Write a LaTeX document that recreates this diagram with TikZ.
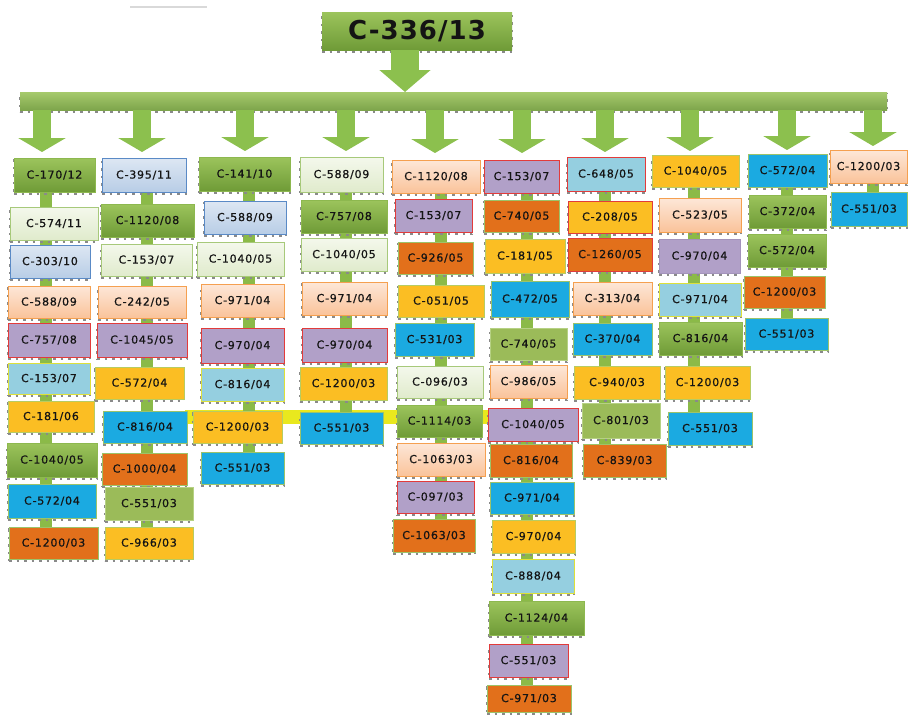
\documentclass[tikz,border=0pt]{standalone}
\usepackage{fontspec}
\usetikzlibrary{arrows.meta,backgrounds,calc}
\newfontfamily\labfont[LetterSpace=7,FakeBold=0.7]{DejaVu Sans}
\newfontfamily\titlefont[LetterSpace=4]{DejaVu Sans}
\definecolor{gdkT}{HTML}{9CC45C}
\definecolor{gdkB}{HTML}{6F9B37}
\definecolor{gdkL}{HTML}{8DB84F}
\definecolor{gltT}{HTML}{F4F8EC}
\definecolor{gltB}{HTML}{E0EBCC}
\definecolor{gltL}{HTML}{A7C97A}
\definecolor{gmdF}{HTML}{9BBB59}
\definecolor{gmdL}{HTML}{B6D184}
\definecolor{bltT}{HTML}{DDE7F3}
\definecolor{bltB}{HTML}{B8CDE6}
\definecolor{bltL}{HTML}{5A8AC6}
\definecolor{pchT}{HTML}{FDE7D8}
\definecolor{pchB}{HTML}{FAC39A}
\definecolor{pchL}{HTML}{F5A050}
\definecolor{purF}{HTML}{B1A0C8}
\definecolor{purL}{HTML}{E23B3B}
\definecolor{purG}{HTML}{A393BB}
\definecolor{cyaF}{HTML}{95CFE0}
\definecolor{cyaL}{HTML}{DDE03A}
\definecolor{ylwF}{HTML}{FBBE23}
\definecolor{ylwL}{HTML}{B7CC62}
\definecolor{bluF}{HTML}{1BAAE1}
\definecolor{bluL}{HTML}{9CC36A}
\definecolor{orgF}{HTML}{E2701B}
\definecolor{orgL}{HTML}{9CC36A}
\definecolor{arrG}{HTML}{8CC04E}
\definecolor{shaftG}{HTML}{8BBA48}
\definecolor{dashG}{HTML}{8A8A8A}
\definecolor{bandY}{HTML}{E9E81E}
\definecolor{txt}{HTML}{141414}
\tikzset{
  box/.style={rectangle, inner sep=0pt, outer sep=0pt, line width=0.9pt, text=txt,
    font=\labfont\fontsize{11}{12}\selectfont,
    preaction={draw=dashG, dash pattern=on 2.5pt off 5pt, line width=1.4pt, transform canvas={yshift=-2pt}}},
  gdk/.style={box, draw=gdkL, top color=gdkT, bottom color=gdkB},
  glt/.style={box, draw=gltL, top color=gltT, bottom color=gltB},
  gmd/.style={box, draw=gmdL, fill=gmdF},
  blt/.style={box, draw=bltL, top color=bltT, bottom color=bltB},
  pch/.style={box, draw=pchL, top color=pchT, bottom color=pchB},
  pur/.style={box, draw=purL, fill=purF},
  purg/.style={box, draw=purG, fill=purF},
  cya/.style={box, draw=cyaL, fill=cyaF},
  cyr/.style={box, draw=purL, fill=cyaF},
  ylw/.style={box, draw=ylwL, fill=ylwF},
  ylr/.style={box, draw=purL, fill=ylwF},
  blu/.style={box, draw=bluL, fill=bluF},
  org/.style={box, draw=orgL, fill=orgF},
  orr/.style={box, draw=purL, fill=orgF},
  titlebox/.style={box, draw=none, top color=gdkT, bottom color=gdkB,
    font=\titlefont\bfseries\fontsize{26}{30}\selectfont},
  barst/.style={box, draw=none, top color=gdkT!90!white, bottom color=gdkB!90!white},
  shaft/.style={draw=shaftG, line width=12pt},
  colarrow/.style={draw=arrG, line width=18pt, -{Triangle[length=14pt,width=47pt]}},
  mainarrow/.style={draw=arrG, line width=28pt, -{Triangle[length=22pt,width=50pt]}},
}
\newcommand\bx[7]{\node[#2, minimum width={(#5-#3)*1pt}, minimum height={(#6-#4)*1pt}] (#1) at ({(#3+#5)/2},{(#4+#6)/2}) {#7};}
\begin{document}
\begin{tikzpicture}[x=1pt,y=-1pt]
\useasboundingbox (0,0) rectangle (908,715);
\draw[gray!30, line width=2pt] (130,7) -- (207,7);
% root and bar
\node[titlebox, minimum width=190pt, minimum height=38pt] (root) at (417,31) {C-336/13};
\node[barst, minimum width=867pt, minimum height=18pt] (bar) at (453.5,101) {};
% column 1
\bx{a1}{gdk}{14}{158}{95}{192}{C-170/12}
\bx{a2}{glt}{10}{207}{98}{240}{C-574/11}
\bx{a3}{blt}{10}{245}{90}{278}{C-303/10}
\bx{a4}{pch}{8}{286}{90}{318}{C-588/09}
\bx{a5}{pur}{8}{323}{90}{357}{C-757/08}
\bx{a6}{cya}{8}{363}{90}{394}{C-153/07}
\bx{a7}{ylw}{8}{401}{94}{432}{C-181/06}
\bx{a8}{gdk}{7}{443}{97}{477}{C-1040/05}
\bx{a9}{blu}{8}{484}{96}{518}{C-572/04}
\bx{a10}{org}{9}{527}{98}{559}{C-1200/03}
% column 2
\bx{b1}{blt}{102}{158}{186}{192}{C-395/11}
\bx{b2}{gdk}{101}{204}{194}{237}{C-1120/08}
\bx{b3}{glt}{101}{244}{192}{276}{C-153/07}
\bx{b4}{pch}{98}{286}{186}{318}{C-242/05}
\bx{b5}{pur}{97}{323}{187}{357}{C-1045/05}
\bx{b6}{ylw}{95}{367}{184}{399}{C-572/04}
\bx{b7}{blu}{103}{411}{187}{443}{C-816/04}
\bx{b8}{org}{102}{453}{187}{485}{C-1000/04}
\bx{b9}{gmd}{105}{487}{193}{520}{C-551/03}
\bx{b10}{ylw}{105}{527}{193}{559}{C-966/03}
% column 3
\bx{c1}{gdk}{199}{157}{290}{191}{C-141/10}
\bx{c2}{blt}{204}{201}{286}{234}{C-588/09}
\bx{c3}{glt}{197}{242}{284}{276}{C-1040/05}
\bx{c4}{pch}{201}{284}{284}{317}{C-971/04}
\bx{c5}{pur}{201}{328}{284}{363}{C-970/04}
\bx{c6}{cya}{201}{368}{284}{401}{C-816/04}
\bx{c7}{ylw}{193}{411}{282}{443}{C-1200/03}
\bx{c8}{blu}{201}{452}{284}{484}{C-551/03}
% column 4
\bx{d1}{glt}{300}{157}{383}{192}{C-588/09}
\bx{d2}{gdk}{301}{200}{387}{233}{C-757/08}
\bx{d3}{glt}{301}{238}{387}{271}{C-1040/05}
\bx{d4}{pch}{302}{282}{387}{315}{C-971/04}
\bx{d5}{pur}{302}{328}{387}{362}{C-970/04}
\bx{d6}{ylw}{300}{367}{387}{400}{C-1200/03}
\bx{d7}{blu}{300}{412}{383}{444}{C-551/03}
% column 5
\bx{e1}{pch}{392}{160}{480}{193}{C-1120/08}
\bx{e2}{pur}{395}{199}{472}{232}{C-153/07}
\bx{e3}{org}{398}{242}{473}{274}{C-926/05}
\bx{e4}{ylw}{398}{285}{484}{317}{C-051/05}
\bx{e5}{blu}{395}{323}{474}{356}{C-531/03}
\bx{e6}{glt}{397}{366}{483}{398}{C-096/03}
\bx{e7}{gdk}{397}{405}{482}{437}{C-1114/03}
\bx{e8}{pch}{397}{443}{485}{476}{C-1063/03}
\bx{e9}{pur}{397}{481}{474}{513}{C-097/03}
\bx{e10}{org}{393}{519}{475}{552}{C-1063/03}
% column 6
\bx{f1}{pur}{484}{160}{559}{193}{C-153/07}
\bx{f2}{org}{484}{200}{559}{232}{C-740/05}
\bx{f3}{ylw}{485}{239}{565}{273}{C-181/05}
\bx{f4}{blu}{491}{281}{569}{317}{C-472/05}
\bx{f5}{gmd}{490}{328}{567}{360}{C-740/05}
\bx{f6}{pch}{490}{365}{567}{398}{C-986/05}
\bx{f7}{pur}{488}{408}{578}{441}{C-1040/05}
\bx{f8}{org}{490}{444}{572}{477}{C-816/04}
\bx{f9}{blu}{490}{482}{574}{514}{C-971/04}
\bx{f10}{ylw}{492}{520}{575}{553}{C-970/04}
\bx{f11}{cya}{492}{559}{574}{593}{C-888/04}
\bx{f12}{gdk}{489}{601}{584}{635}{C-1124/04}
\bx{f13}{pur}{489}{644}{568}{677}{C-551/03}
\bx{f14}{org}{487}{685}{571}{712}{C-971/03}
% column 7
\bx{g1}{cyr}{567}{157}{645}{191}{C-648/05}
\bx{g2}{ylr}{568}{201}{652}{233}{C-208/05}
\bx{g3}{orr}{568}{238}{652}{271}{C-1260/05}
\bx{g4}{pch}{573}{282}{652}{315}{C-313/04}
\bx{g5}{blu}{573}{323}{652}{355}{C-370/04}
\bx{g6}{ylw}{574}{366}{660}{399}{C-940/03}
\bx{g7}{gmd}{582}{403}{660}{438}{C-801/03}
\bx{g8}{org}{583}{444}{666}{477}{C-839/03}
% column 8
\bx{h1}{ylw}{652}{155}{739}{187}{C-1040/05}
\bx{h2}{pch}{659}{198}{741}{232}{C-523/05}
\bx{h3}{purg}{659}{239}{740}{273}{C-970/04}
\bx{h4}{cya}{659}{283}{741}{316}{C-971/04}
\bx{h5}{gdk}{659}{322}{742}{355}{C-816/04}
\bx{h6}{ylw}{665}{366}{750}{399}{C-1200/03}
\bx{h7}{blu}{668}{412}{752}{445}{C-551/03}
% column 9
\bx{i1}{blu}{748}{154}{827}{187}{C-572/04}
\bx{i2}{gdk}{749}{195}{826}{228}{C-372/04}
\bx{i3}{gdk}{748}{234}{826}{267}{C-572/04}
\bx{i4}{org}{744}{276}{825}{308}{C-1200/03}
\bx{i5}{blu}{745}{318}{828}{350}{C-551/03}
% column 10
\bx{j1}{pch}{830}{150}{907}{183}{C-1200/03}
\bx{j2}{blu}{831}{192}{907}{226}{C-551/03}
% shaft and arrow positions
\coordinate (m) at (405,0);
\foreach \n/\x in {1/42,2/142,3/245,4/346,5/435,6/522,7/605,8/690,9/787,10/873}
  \coordinate (k\n) at (\x,0);
\foreach \n/\x in {1/46,2/147,3/249,4/346,5/441,6/527,7/605,8/694,9/787,10/873}
  \coordinate (s\n) at (\x,0);
\begin{scope}[on background layer]
  \fill[white] (0,0) rectangle (908,715);
  \fill[bandY] (185,410) rectangle (490,424);
  \draw[shaft] (s1 |- a1.center) -- (s1 |- a10.center);
  \draw[shaft] (s2 |- b1.center) -- (s2 |- b10.center);
  \draw[shaft] (s3 |- c1.center) -- (s3 |- c8.center);
  \draw[shaft] (s4 |- d1.center) -- (s4 |- d7.center);
  \draw[shaft] (s5 |- e1.center) -- (s5 |- e10.center);
  \draw[shaft] (s6 |- f1.center) -- (s6 |- f14.center);
  \draw[shaft] (s7 |- g1.center) -- (s7 |- g8.center);
  \draw[shaft] (s8 |- h1.center) -- (s8 |- h7.center);
  \draw[shaft] (s9 |- i1.center) -- (s9 |- i5.center);
  \draw[shaft] (s10 |- j1.center) -- (s10 |- j2.center);
\end{scope}
% arrows
\draw[mainarrow] (m |- root.south) -- (m |- bar.north);
\draw[colarrow] (k1 |- bar.south) -- ($(k1 |- a1.north)+(0,-6)$);
\draw[colarrow] (k2 |- bar.south) -- ($(k2 |- b1.north)+(0,-6)$);
\draw[colarrow] (k3 |- bar.south) -- ($(k3 |- c1.north)+(0,-6)$);
\draw[colarrow] (k4 |- bar.south) -- ($(k4 |- d1.north)+(0,-6)$);
\draw[colarrow] (k5 |- bar.south) -- ($(k5 |- e1.north)+(0,-7)$);
\draw[colarrow] (k6 |- bar.south) -- ($(k6 |- f1.north)+(0,-7)$);
\draw[colarrow] (k7 |- bar.south) -- ($(k7 |- g1.north)+(0,-5)$);
\draw[colarrow] (k8 |- bar.south) -- ($(k8 |- h1.north)+(0,-4)$);
\draw[colarrow] (k9 |- bar.south) -- ($(k9 |- i1.north)+(0,-4)$);
\draw[colarrow] (k10 |- bar.south) -- ($(k10 |- j1.north)+(0,-4)$);
\end{tikzpicture}
\end{document}
